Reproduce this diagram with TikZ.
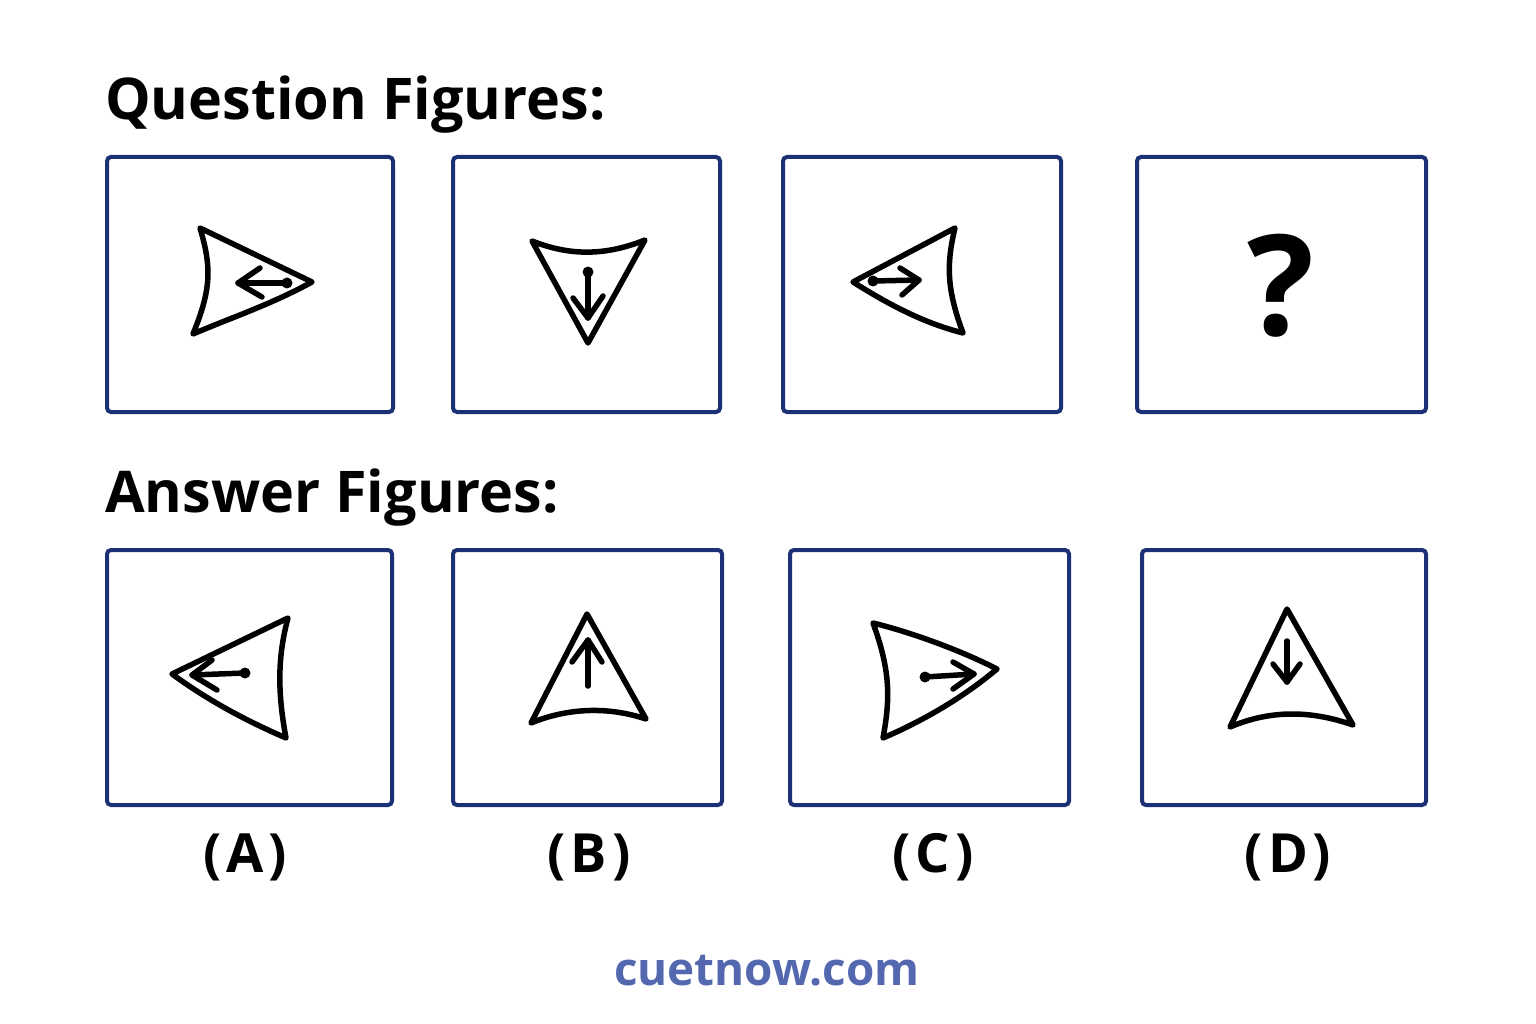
\documentclass[tikz,border=0pt]{standalone}
\usepackage{fontspec}
\setmainfont{Open Sans}
\definecolor{navy}{HTML}{1B3175}
\definecolor{site}{HTML}{5468B0}
\begin{document}
\begin{tikzpicture}[x=1pt,y=-1pt,
  frame/.style={draw=navy,line width=4pt,rounded corners=4pt},
  fig/.style={draw=black,line width=5.5pt,line join=round,line cap=round},
  dot/.style={fill=black},
  title/.style={anchor=base west,inner sep=0pt,font=\fontsize{57.5}{70}\selectfont\bfseries},
  lab/.style={anchor=base,inner sep=0pt,font=\fontsize{54}{62}\selectfont\bfseries}]
\useasboundingbox[fill=white] (0,0) rectangle (1536,1024);

% titles
\node[title] (qt) at (105,120) {Question Figures:};
\node[title] (at) at (105,512) {Answer Figures:};

% question frames
\draw[frame] (107,157) rectangle (393,412);
\draw[frame] (453,157) rectangle (720,412);
\draw[frame] (783,157) rectangle (1061,412);
\draw[frame] (1137,157) rectangle (1426,412);
% answer frames
\draw[frame] (107,550) rectangle (392,805);
\draw[frame] (453,550) rectangle (722,805);
\draw[frame] (790,550) rectangle (1069,805);
\draw[frame] (1142,550) rectangle (1426,805);

% Q1
\draw[fig] (200,228) -- (312,282) .. controls (270,305) and (230,318) .. (193,334)
  .. controls (211,290) and (212,268) .. cycle;
\draw[fig] (287,283) -- (238,283);
\draw[fig] (260,268) -- (238,283) -- (262,297);
\fill[dot] (287,283) circle (5.5);

% Q2
\draw[fig] (532,241) .. controls (570,256) and (605,256) .. (645,240)
  -- (588,343) -- cycle;
\draw[fig] (588,272) -- (588,318);
\draw[fig] (573,298) -- (588,318) -- (603,296);
\fill[dot] (588,272) circle (5.5);

% Q3
\draw[fig] (955,228) .. controls (946,265) and (947,290) .. (963,333)
  .. controls (920,322) and (885,302) .. (853,282) -- cycle;
\draw[fig] (873,281) -- (919,280);
\draw[fig] (900,268) -- (919,280) -- (902,295);
\fill[dot] (873,281) circle (5.5);

% Q4
\node[inner sep=0pt,font=\fontsize{140}{150}\selectfont\bfseries] (qm) at (1281,286) {?};

% A
\draw[fig] (288,618) .. controls (278,655) and (277,690) .. (286,738)
  .. controls (240,718) and (205,698) .. (172,674) -- cycle;
\draw[fig] (245,673) -- (192,675);
\draw[fig] (212,660) -- (192,675) -- (217,690);
\fill[dot] (245,673) circle (5.5);

% B
\draw[fig] (587,614) -- (646,719) .. controls (610,707) and (570,707) .. (531,723) -- cycle;
\draw[fig] (588,686) -- (588,640);
\draw[fig] (572,662) -- (588,640) -- (602,662);

% C
\draw[fig] (873,623) .. controls (910,632) and (960,650) .. (997,669)
  .. controls (960,700) and (920,722) .. (883,738)
  .. controls (890,700) and (891,672) .. cycle;
\draw[fig] (925,677) -- (974,674);
\draw[fig] (953,662) -- (974,674) -- (953,689);
\fill[dot] (925,677) circle (5.5);

% D
\draw[fig] (1287,609) -- (1353,725) .. controls (1310,710) and (1270,710) .. (1230,727) -- cycle;
\draw[fig] (1287,641) -- (1287,682);
\draw[fig] (1273,664) -- (1287,682) -- (1300,664);

% labels
\node[lab] (la) at (245,872) {(\kern5pt A\kern5pt)};
\node[lab] (lb) at (589,872) {(\kern5pt B\kern5pt)};
\node[lab] (lc) at (933,872) {(\kern5pt C\kern5pt)};
\node[lab] (ld) at (1288,872) {(\kern5pt D\kern5pt)};

% footer
\node[anchor=base,inner sep=0pt,text=site,font=\fontsize{45.8}{52}\selectfont\bfseries] (ft) at (767,985) {cuetnow.com};
\end{tikzpicture}
\end{document}
